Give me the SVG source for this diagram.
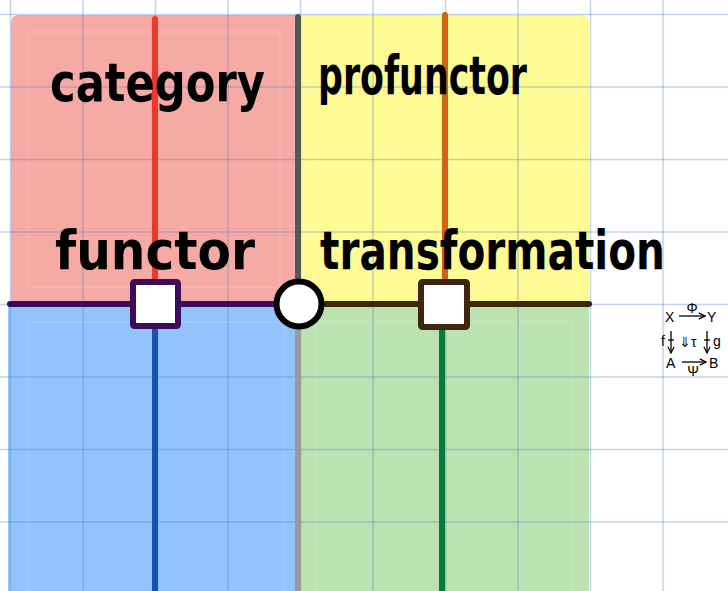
<svg xmlns="http://www.w3.org/2000/svg" width="728" height="591" viewBox="0 0 728 591">
<defs>
<style>
.grid line{stroke:#4a78c0;stroke-opacity:0.33;stroke-width:1.5}
.inner{fill:none;stroke:#ffffff;stroke-opacity:0.13;stroke-width:1.5}
.hand{font-family:"DejaVu Sans","Liberation Sans",sans-serif;font-weight:bold;fill:#000}
.small{font-family:"Liberation Sans",sans-serif;font-size:14px;fill:#000}
.wire{stroke-width:6;fill:none}
.sa{stroke:#000;stroke-width:1.3;fill:none}
</style>
<marker id="ah" viewBox="0 0 10 10" refX="9" refY="5" markerWidth="6" markerHeight="6" orient="auto"><path d="M1,1 L9,5 L1,9" fill="none" stroke="#000" stroke-width="1.5"/></marker>
</defs>
<rect width="728" height="591" fill="#ffffff"/>
<g id="regions">
<path id="q-category" d="M11,23 Q11,15 19,15 L298,15 L298,304 L11,304 Z" fill="#f5aaa5"/>
<path id="q-profunctor" d="M298,15 L581,15 Q589,15 589,23 L589,304 L298,304 Z" fill="#fefb94"/>
<rect id="q-functor" x="8" y="304" width="290" height="287" fill="#94c3fc"/>
<rect id="q-transformation" x="298" y="304" width="291" height="287" fill="#bce2b2"/>
<rect class="inner" x="28" y="32" width="252" height="255"/>
<rect class="inner" x="316" y="32" width="256" height="255"/>
<rect class="inner" x="28" y="322" width="256" height="270"/>
<rect class="inner" x="316" y="322" width="256" height="270"/>
</g>
<g class="grid" id="grid">
<line x1="10.5" y1="0" x2="10.5" y2="591"/>
<line x1="83" y1="0" x2="83" y2="591"/>
<line x1="155.5" y1="0" x2="155.5" y2="591"/>
<line x1="228" y1="0" x2="228" y2="591"/>
<line x1="300.5" y1="0" x2="300.5" y2="591"/>
<line x1="373" y1="0" x2="373" y2="591"/>
<line x1="445.5" y1="0" x2="445.5" y2="591"/>
<line x1="518" y1="0" x2="518" y2="591"/>
<line x1="590.5" y1="0" x2="590.5" y2="591"/>
<line x1="663" y1="0" x2="663" y2="591"/>
<line x1="0" y1="14.5" x2="728" y2="14.5"/>
<line x1="0" y1="87" x2="728" y2="87"/>
<line x1="0" y1="159.5" x2="728" y2="159.5"/>
<line x1="0" y1="232" x2="728" y2="232"/>
<line x1="0" y1="304.5" x2="728" y2="304.5"/>
<line x1="0" y1="377" x2="728" y2="377"/>
<line x1="0" y1="449.5" x2="728" y2="449.5"/>
<line x1="0" y1="522" x2="728" y2="522"/>
</g>
<g id="connectors">
<line class="wire" x1="155" y1="19" x2="155" y2="304" stroke="#ec3a26" stroke-linecap="round"/>
<line class="wire" x1="445" y1="15" x2="445" y2="304" stroke="#cf6514" stroke-linecap="round"/>
<line class="wire" x1="155" y1="304" x2="155" y2="591" stroke="#1b4eb5"/>
<line class="wire" x1="442" y1="304" x2="442" y2="591" stroke="#087a3c"/>
<line class="wire" x1="298" y1="17" x2="298" y2="304" stroke="#505a5a" stroke-linecap="round"/>
<line class="wire" x1="298" y1="304" x2="298" y2="591" stroke="#9a9a9a"/>
<line class="wire" x1="10" y1="304" x2="298" y2="304" stroke="#3b0b5c" stroke-linecap="round"/>
<line class="wire" x1="298" y1="304" x2="589" y2="304" stroke="#3e2510" stroke-linecap="round"/>
</g>
<g id="node-functor">
<rect x="133" y="282" width="45" height="44" fill="#ffffff" stroke="#3b0b5c" stroke-width="6" rx="1.5"/>
</g>
<g id="node-transformation">
<rect x="421" y="282" width="46" height="45" fill="#ffffff" stroke="#3e2510" stroke-width="6" rx="1.5"/>
</g>
<g id="node-profunctor">
<circle cx="299" cy="304" r="22.5" fill="#ffffff" stroke="#000" stroke-width="6"/>
</g>
<g id="labels">
<text class="hand" x="50" y="101" font-size="54" textLength="215" lengthAdjust="spacingAndGlyphs">category</text>
<text class="hand" x="318" y="94" font-size="54" textLength="209" lengthAdjust="spacingAndGlyphs">profunctor</text>
<text class="hand" x="55" y="269" font-size="54" textLength="200" lengthAdjust="spacingAndGlyphs">functor</text>
<text class="hand" x="320" y="269" font-size="54" textLength="345" lengthAdjust="spacingAndGlyphs">transformation</text>
</g>
<g id="square-legend">
<text class="small" x="665" y="322">X</text>
<path class="sa" d="M679,316 L705,316" marker-end="url(#ah)"/>
<text class="small" x="692" y="313" text-anchor="middle" font-size="10">Φ</text>
<text class="small" x="707" y="322">Y</text>
<text class="small" x="661" y="346">f</text>
<path class="sa" d="M671,331 L671,353" marker-end="url(#ah)"/>
<line class="sa" x1="668" y1="340" x2="674" y2="340"/>
<text class="small" x="679" y="347" font-size="13">⇓τ</text>
<path class="sa" d="M707,331 L707,353" marker-end="url(#ah)"/>
<line class="sa" x1="704" y1="340" x2="710" y2="340"/>
<text class="small" x="713" y="346">g</text>
<text class="small" x="666" y="368">A</text>
<path class="sa" d="M682,362 L706,362" marker-end="url(#ah)"/>
<text class="small" x="693" y="376" text-anchor="middle" font-size="10">Ψ</text>
<text class="small" x="709" y="368">B</text>
</g>
</svg>
